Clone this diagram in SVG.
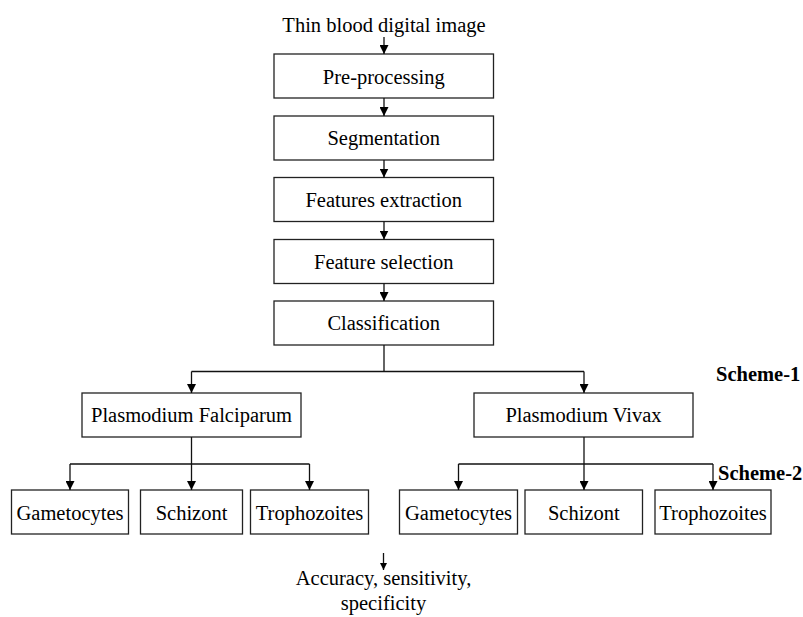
<svg xmlns="http://www.w3.org/2000/svg" width="803" height="617" viewBox="0 0 803 617">
<style>
  .box { fill: #fff; stroke: #222; stroke-width: 1.3; }
  .lbl { font-family: "Liberation Serif", "Times New Roman", serif; font-size: 20.5px; fill: #000; text-anchor: middle; }
  .bold { font-family: "Liberation Serif", "Times New Roman", serif; font-size: 20.5px; font-weight: bold; fill: #000; }
  .ln { fill: none; stroke: #111; stroke-width: 1.3; }
  .arr { fill: none; stroke: #111; stroke-width: 1.3; marker-end: url(#ah); }
</style>
<defs>
  <marker id="ah" viewBox="0 0 10 10" refX="10" refY="5" markerWidth="9" markerHeight="9" markerUnits="userSpaceOnUse" orient="auto">
    <path d="M0,0 L10,5 L0,10 z" fill="#000"/>
  </marker>
  <marker id="ahs" viewBox="0 0 10 10" refX="10" refY="5" markerWidth="7.5" markerHeight="7.5" markerUnits="userSpaceOnUse" orient="auto">
    <path d="M0,0 L10,5 L0,10 z" fill="#000"/>
  </marker>
</defs>
<rect width="803" height="617" fill="#fff"/>

<text class="lbl" x="384" y="31.5">Thin blood digital image</text>

<g id="preprocessing"><rect class="box" x="274" y="54" width="219.5" height="44"/><text class="lbl" x="383.75" y="84">Pre-processing</text></g>
<g id="segmentation"><rect class="box" x="274" y="116" width="219.5" height="44"/><text class="lbl" x="383.75" y="145">Segmentation</text></g>
<g id="features-extraction"><rect class="box" x="274" y="177.5" width="219.5" height="44"/><text class="lbl" x="383.75" y="206.5">Features extraction</text></g>
<g id="feature-selection"><rect class="box" x="274" y="239.5" width="219.5" height="44"/><text class="lbl" x="383.75" y="268.5">Feature selection</text></g>
<g id="classification"><rect class="box" x="274" y="301" width="219.5" height="44"/><text class="lbl" x="383.75" y="330">Classification</text></g>

<g id="falciparum"><rect class="box" x="82" y="393" width="219" height="44"/><text class="lbl" x="191.5" y="422">Plasmodium Falciparum</text></g>
<g id="vivax"><rect class="box" x="474" y="393" width="219" height="44"/><text class="lbl" x="583.5" y="422">Plasmodium Vivax</text></g>

<g id="pf-gametocytes"><rect class="box" x="11.5" y="490" width="117" height="44"/><text class="lbl" x="70" y="519.5">Gametocytes</text></g>
<g id="pf-schizont"><rect class="box" x="140.5" y="490" width="102" height="44"/><text class="lbl" x="191.5" y="519.5">Schizont</text></g>
<g id="pf-trophozoites"><rect class="box" x="250.5" y="490" width="118" height="44"/><text class="lbl" x="309.5" y="519.5">Trophozoites</text></g>
<g id="pv-gametocytes"><rect class="box" x="399.5" y="490" width="118" height="44"/><text class="lbl" x="458.5" y="519.5">Gametocytes</text></g>
<g id="pv-schizont"><rect class="box" x="525" y="490" width="117.5" height="44"/><text class="lbl" x="583.75" y="519.5">Schizont</text></g>
<g id="pv-trophozoites"><rect class="box" x="655" y="490" width="116" height="44"/><text class="lbl" x="713" y="519.5">Trophozoites</text></g>

<text class="bold" x="716" y="381">Scheme-1</text>
<text class="bold" x="718" y="480">Scheme-2</text>

<text class="lbl" x="383.5" y="585">Accuracy, sensitivity,</text>
<text class="lbl" x="383.5" y="610">specificity</text>

<g id="connectors">
  <line class="arr" x1="384" y1="37" x2="384" y2="54"/>
  <line class="arr" x1="384" y1="98" x2="384" y2="116"/>
  <line class="arr" x1="384" y1="160" x2="384" y2="177.5"/>
  <line class="arr" x1="384" y1="221.5" x2="384" y2="239.5"/>
  <line class="arr" x1="384" y1="283.5" x2="384" y2="301"/>
  <line class="ln" x1="384" y1="345" x2="384" y2="371.5"/>
  <line class="ln" x1="191.5" y1="371.5" x2="584" y2="371.5"/>
  <line class="arr" x1="191.5" y1="371.5" x2="191.5" y2="393"/>
  <line class="arr" x1="584" y1="371.5" x2="584" y2="393"/>
  <line class="ln" x1="191.5" y1="437" x2="191.5" y2="464"/>
  <line class="ln" x1="70" y1="464" x2="309.5" y2="464"/>
  <line class="arr" x1="70" y1="464" x2="70" y2="490"/>
  <line class="arr" x1="191.5" y1="464" x2="191.5" y2="490"/>
  <line class="arr" x1="309.5" y1="464" x2="309.5" y2="490"/>
  <line class="ln" x1="584" y1="437" x2="584" y2="464"/>
  <line class="ln" x1="458.5" y1="464" x2="713" y2="464"/>
  <line class="arr" x1="458.5" y1="464" x2="458.5" y2="490"/>
  <line class="arr" x1="584" y1="464" x2="584" y2="490"/>
  <line class="arr" x1="713" y1="464" x2="713" y2="490"/>
  <line class="ln" x1="383.5" y1="553" x2="383.5" y2="570" marker-end="url(#ahs)"/>
</g>
</svg>
